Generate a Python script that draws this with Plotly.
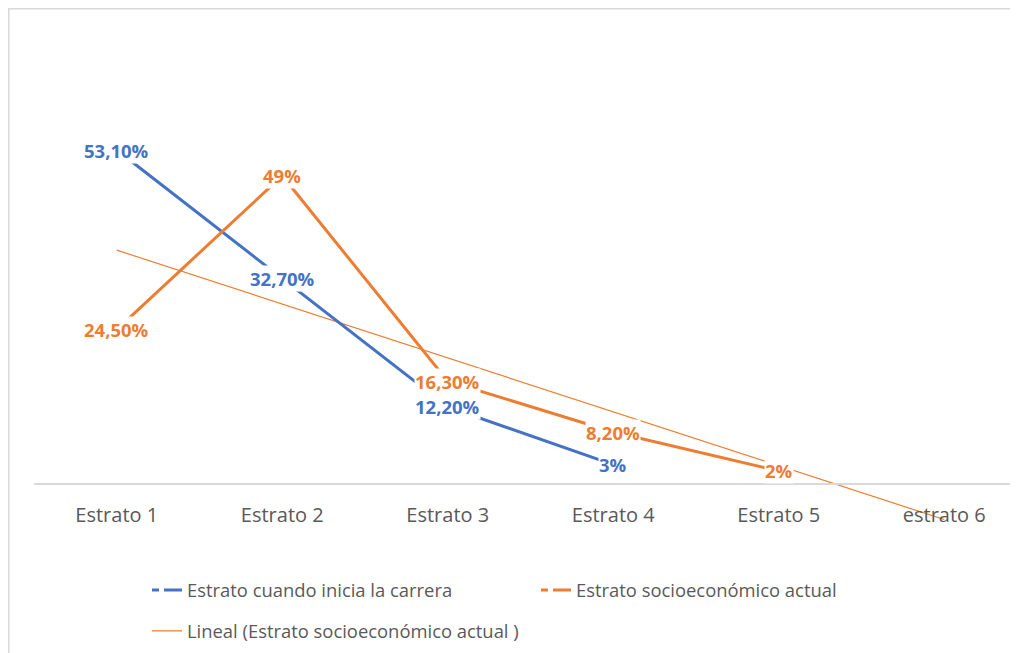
import numpy as np
import plotly.graph_objects as go

categories = ["Estrato 1", "Estrato 2", "Estrato 3", "Estrato 4", "Estrato 5", "estrato 6"]
inicio_vals = [53.1, 32.7, 12.2, 3.0]
inicio_labels = ["53,10%", "32,70%", "12,20%", "3%"]
actual_vals = [24.5, 49.0, 16.3, 8.2, 2.0]
actual_labels = ["24,50%", "49%", "16,30%", "8,20%", "2%"]
name_inicio = "Estrato cuando inicia la carrera"
name_actual = "Estrato socioeconómico actual"
name_trend = "Lineal (Estrato socioeconómico actual )"

BLUE = "#4472C4"
ORANGE = "#ED7D31"
GREY = "#595959"
FONT = "Open Sans"

x_inicio = list(range(len(inicio_vals)))
x_actual = list(range(len(actual_vals)))
x_all = list(range(len(categories)))

# linear trendline (least squares) for the current stratum, forecast 1 period forward
slope, intercept = np.polyfit(x_actual, actual_vals, 1)
trend_x = [x_all[0], x_all[-1]]
trend_y = [intercept + slope * v for v in trend_x]

fig = go.Figure()
fig.add_trace(go.Scatter(x=trend_x, y=trend_y, mode="lines",
                         line=dict(color=ORANGE, width=1.2), showlegend=False, hoverinfo="skip"))
fig.add_trace(go.Scatter(x=x_inicio, y=inicio_vals, mode="lines",
                         line=dict(color=BLUE, width=3), showlegend=False))
fig.add_trace(go.Scatter(x=x_actual, y=actual_vals, mode="lines",
                         line=dict(color=ORANGE, width=3), showlegend=False))

# legend-only entries
fig.add_trace(go.Scatter(x=[None], y=[None], mode="lines", name=name_inicio,
                         line=dict(color=BLUE, width=3, dash="7px,5px,18px,100px"), legend="legend"))
fig.add_trace(go.Scatter(x=[None], y=[None], mode="lines", name=name_actual,
                         line=dict(color=ORANGE, width=3, dash="7px,5px,18px,100px"), legend="legend"))
fig.add_trace(go.Scatter(x=[None], y=[None], mode="lines", name=name_trend,
                         line=dict(color=ORANGE, width=1.2), legend="legend2"))

annotations = []
for xv, yv, t in zip(x_inicio, inicio_vals, inicio_labels):
    annotations.append(dict(x=xv, y=yv, text="<b>%s</b>" % t, showarrow=False,
                            font=dict(family=FONT, size=18.5, color=BLUE),
                            bgcolor="rgba(255,255,255,1)", borderpad=0))
for xv, yv, t in zip(x_actual, actual_vals, actual_labels):
    annotations.append(dict(x=xv, y=yv, text="<b>%s</b>" % t, showarrow=False,
                            font=dict(family=FONT, size=18.5, color=ORANGE),
                            bgcolor="rgba(255,255,255,1)", borderpad=0))

W, H = 1010, 645
L = 26
PW = W - L
YTOP, YBOT = 75.72, -26.99

fig.update_layout(
    width=W, height=H,
    margin=dict(l=L, r=0, t=0, b=0, pad=0, autoexpand=False),
    paper_bgcolor="white", plot_bgcolor="white",
    font=dict(family=FONT, size=18, color=GREY),
    xaxis=dict(range=[-0.5, -0.5 + PW / 165.5], tickvals=x_all, ticktext=categories,
               showgrid=False, zeroline=False, showline=True, linecolor="#D9D9D9", linewidth=1.5,
               anchor="free", position=(0 - YBOT) / (YTOP - YBOT), ticks="", ticklabelstandoff=14,
               tickfont=dict(family=FONT, size=20, color=GREY)),
    yaxis=dict(range=[YBOT, YTOP], visible=False, showgrid=False, zeroline=False),
    legend=dict(orientation="h", x=139 / W, xref="container", y=1 - 582 / H, yref="container",
                xanchor="left", yanchor="middle", entrywidth=344,
                font=dict(family=FONT, size=18.4, color=GREY), bgcolor="rgba(0,0,0,0)"),
    legend2=dict(orientation="h", x=139 / W, xref="container", y=1 - 623 / H, yref="container",
                 xanchor="left", yanchor="middle",
                 font=dict(family=FONT, size=18.4, color=GREY), bgcolor="rgba(0,0,0,0)"),
    annotations=annotations,
    shapes=[dict(type="rect", xref="paper", yref="paper",
                 x0=(0.75 - L) / PW, x1=1.05, y0=-0.4, y1=1 - 0.75 / H,
                 line=dict(color="#D9D9D9", width=1.5), layer="below")],
    showlegend=True,
)

fig.write_html("out.html")
